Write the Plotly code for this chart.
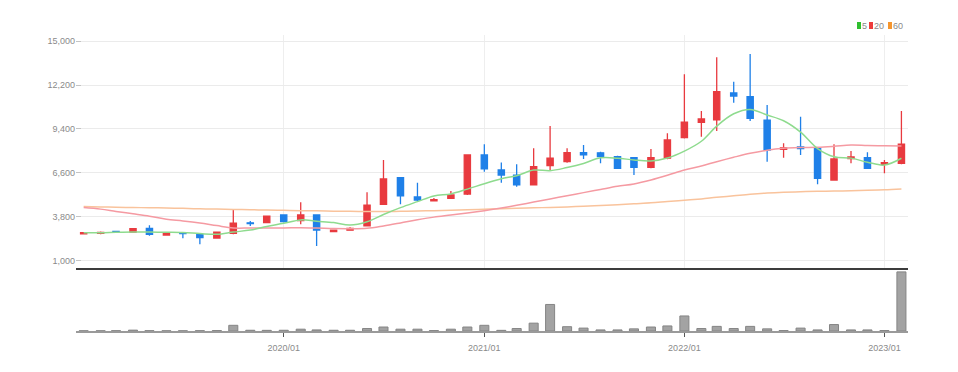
import plotly.graph_objects as go
from plotly.subplots import make_subplots

months = ["2019-01-01","2019-02-01","2019-03-01","2019-04-01","2019-05-01","2019-06-01","2019-07-01","2019-08-01","2019-09-01","2019-10-01","2019-11-01","2019-12-01",
          "2020-01-01","2020-02-01","2020-03-01","2020-04-01","2020-05-01","2020-06-01","2020-07-01","2020-08-01","2020-09-01","2020-10-01","2020-11-01","2020-12-01",
          "2021-01-01","2021-02-01","2021-03-01","2021-04-01","2021-05-01","2021-06-01","2021-07-01","2021-08-01","2021-09-01","2021-10-01","2021-11-01","2021-12-01",
          "2022-01-01","2022-02-01","2022-03-01","2022-04-01","2022-05-01","2022-06-01","2022-07-01","2022-08-01","2022-09-01","2022-10-01","2022-11-01","2022-12-01",
          "2023-01-01","2023-02-01"]

open_ = [2720, 2750, 2880, 2830, 3080, 2650, 2780, 2670, 2460, 2760, 3430, 3440,
         3930, 3570, 3930, 2870, 2960, 3230, 4610, 6300, 5070, 4830, 4990, 5260,
         7750, 6790, 6470, 5840, 7070, 7320, 7900, 7880, 7640, 7570, 6960, 7540,
         8850, 9830, 9980, 11690, 11460, 9970, 8100, 8260, 8170, 6150, 7520, 7570,
         7150, 7220]
high = [2850, 2880, 2920, 3080, 3270, 2800, 2800, 2700, 2870, 4250, 3550, 3900,
        3960, 4730, 3980, 3000, 3150, 5370, 7430, 6350, 5980, 5000, 5450, 7800,
        8430, 7260, 7150, 8170, 9590, 8170, 8380, 7950, 7700, 7600, 8130, 9130,
        12880, 10550, 13960, 12410, 14170, 10930, 8490, 10180, 8200, 8430, 8000, 7920,
        7430, 10550]
low = [2680, 2700, 2780, 2800, 2600, 2600, 2450, 2060, 2420, 2700, 3230, 3400,
       3450, 3340, 1950, 2830, 2930, 3200, 4560, 4610, 4820, 4800, 4950, 5200,
       6680, 5980, 5730, 5800, 6790, 7250, 7490, 7220, 6850, 6470, 6900, 7480,
       8800, 8900, 9270, 11070, 9910, 7320, 7570, 7750, 5880, 6100, 7220, 6850,
       6580, 7150]
close = [2800, 2820, 2820, 3060, 2700, 2740, 2740, 2480, 2830, 3400, 3380, 3860,
         3500, 3930, 2970, 2960, 3080, 4560, 6220, 5140, 4880, 4900, 5200, 7750,
         6860, 6470, 5840, 7000, 7540, 7890, 7750, 7640, 6900, 6960, 7570, 8700,
         9830, 10040, 11770, 11500, 10080, 8060, 8200, 8160, 6260, 7490, 7620, 6900,
         7250, 8430]

ma5 = [2800, 2800, 2830, 2850, 2840, 2828, 2812, 2744, 2698, 2838, 2966, 3190,
       3394, 3614, 3528, 3444, 3288, 3500, 3958, 4392, 4776, 5140, 5268, 5574,
       5918, 6236, 6424, 6784, 6742, 6948, 7204, 7564, 7544, 7428, 7364, 7554,
       7992, 8620, 9582, 10368, 10644, 10290, 9922, 9200, 8152, 7634, 7546, 7286,
       7104, 7540]
ma20 = [4400, 4300, 4150, 4000, 3850, 3650, 3550, 3420, 3250, 3100, 3100, 3100,
        3100, 3120, 3100, 3060, 3050, 3080, 3230, 3420, 3620, 3790, 3920, 4050,
        4200, 4370, 4540, 4750, 4950, 5150, 5350, 5550, 5750, 5900, 6150, 6450,
        6790, 7050, 7320, 7600, 7850, 8050, 8170, 8220, 8240, 8300, 8380, 8350,
        8330, 8320]
ma60 = [4460, 4440, 4420, 4400, 4390, 4370, 4350, 4320, 4300, 4280, 4260, 4240,
        4220, 4200, 4190, 4170, 4160, 4150, 4150, 4160, 4180, 4200, 4230, 4260,
        4290, 4320, 4350, 4380, 4410, 4440, 4480, 4530, 4580, 4640, 4700, 4780,
        4860, 4950, 5050, 5150, 5250, 5330, 5380, 5410, 5430, 5450, 5470, 5500,
        5530, 5580]
volume = [20, 20, 30, 80, 30, 20, 20, 30, 40, 530, 70, 60,
          70, 170, 100, 70, 70, 230, 370, 170, 170, 40, 170, 370,
          530, 60, 230, 730, 2470, 400, 270, 100, 100, 200, 370, 470,
          1400, 230, 430, 230, 430, 200, 40, 270, 100, 600, 100, 100,
          40, 5500]

y_ticks = [1000, 3800, 6600, 9400, 12200, 15000]
x_tickvals = ["2020-01-01", "2021-01-01", "2022-01-01", "2023-01-01"]
x_ticktext = ["2020/01", "2021/01", "2022/01", "2023/01"]
legend_labels = ["5", "20", "60"]
legend_colors = ["#2fbf2f", "#ee3b3b", "#f5962f"]

RED = "#e83a3f"
BLUE = "#1f80e8"
FONT = "Liberation Sans, Arial, sans-serif"
FS = 9

fig = make_subplots(rows=2, cols=1, shared_xaxes=True,
                    row_heights=[0.787, 0.213], vertical_spacing=0.0)

fig.add_trace(go.Candlestick(
    x=months, open=open_, high=high, low=low, close=close,
    increasing=dict(line=dict(color=RED, width=1.3), fillcolor=RED),
    decreasing=dict(line=dict(color=BLUE, width=1.3), fillcolor=BLUE),
    whiskerwidth=0, showlegend=False, hoverinfo="skip"), row=1, col=1)

for vals, col in [(ma60, "#f9c39c"), (ma20, "#f59aa2"), (ma5, "#8edb8e")]:
    fig.add_trace(go.Scatter(x=months, y=vals, mode="lines",
                             line=dict(color=col, width=1.5, shape="spline"),
                             showlegend=False, hoverinfo="skip"), row=1, col=1)

fig.add_trace(go.Bar(x=months, y=volume, width=16.5 * 86400000,
                     marker=dict(color="#a3a3a3", line=dict(color="#858585", width=1)),
                     showlegend=False, hoverinfo="skip"), row=2, col=1)

# page body has an 8px offset; the figure is sized to fill the rest of the window
OFF = 8
W, H = 958 - OFF, 372 - OFF
ml, mr, mt, mb = 76 - OFF, 50, 35 - OFF, 41
pw, ph = W - ml - mr, H - mt - mb

fig.update_layout(
    width=W, height=H, margin=dict(l=ml, r=mr, t=mt, b=mb, autoexpand=False),
    paper_bgcolor="white", plot_bgcolor="white",
    boxgap=0.42, bargap=0.4,
    font=dict(family=FONT, size=FS, color="#8a8a8a"),
)

xr = ["2018-12-18", "2023-02-13"]
fig.update_xaxes(range=xr, type="date", row=1, col=1, automargin=False,
                 rangeslider=dict(visible=False),
                 showline=True, linecolor="#3c3c3c", linewidth=2,
                 showgrid=True, gridcolor="#eeeeee", gridwidth=1,
                 tickvals=x_tickvals, showticklabels=False, ticks="")
fig.update_xaxes(range=xr, type="date", row=2, col=1, automargin=False,
                 showline=True, linecolor="#9a9a9a", linewidth=2,
                 showgrid=False, tickvals=x_tickvals, ticktext=x_ticktext,
                 ticks="outside", ticklen=4, tickcolor="#555555", tickwidth=1,
                 ticklabelstandoff=3,
                 tickfont=dict(family=FONT, size=FS, color="#8a8a8a"))

fig.update_yaxes(range=[555, 15383], row=1, col=1, automargin=False,
                 tickvals=y_ticks, tickformat=",",
                 showgrid=True, gridcolor="#ebebeb", gridwidth=1,
                 zeroline=False, ticks="inside", ticklen=5, tickcolor="#c4c4c4",
                 tickfont=dict(family=FONT, size=FS, color="#8a8a8a"))
fig.update_yaxes(range=[0, 5868], row=2, col=1, automargin=False,
                 showticklabels=False, showgrid=False, zeroline=False, ticks="")

# legend swatches (top right), positions given in window pixels
items = [(857, 861, 0), (869, 873, 1), (888, 892, 2)]
for x0, x1, i in items:
    fig.add_shape(type="rect", xref="paper", yref="paper",
                  x0=(x0 - OFF - ml) / pw, x1=(x1 - OFF - ml) / pw,
                  y0=(H - mb - (29 - OFF)) / ph, y1=(H - mb - (22 - OFF)) / ph,
                  fillcolor=legend_colors[i], line=dict(width=0))
    fig.add_annotation(xref="paper", yref="paper",
                       x=(x1 - OFF - ml) / pw, y=(H - mb - (25.5 - OFF)) / ph,
                       text=legend_labels[i], showarrow=False,
                       xanchor="left", yanchor="middle", borderpad=0,
                       font=dict(family=FONT, size=FS, color="#8a8a8a"))

fig.write_html("out.html")
